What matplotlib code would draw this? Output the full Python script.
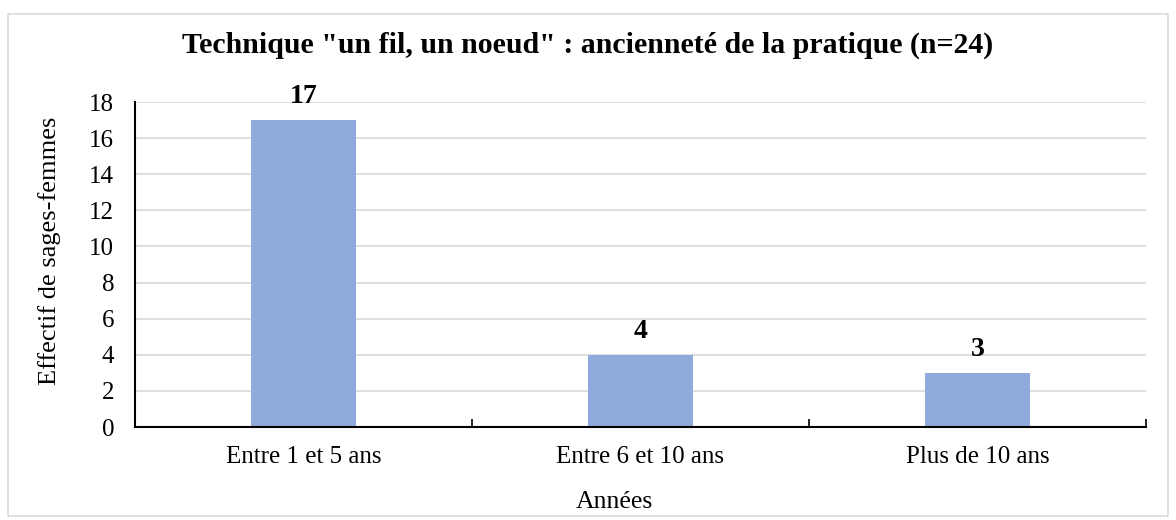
import matplotlib
matplotlib.use('Agg')
import matplotlib.pyplot as plt
from matplotlib.patches import Rectangle

# data
categories = ['Entre 1 et 5 ans', 'Entre 6 et 10 ans', 'Plus de 10 ans']
effectifs = [17, 4, 3]
y_ticks = [0, 2, 4, 6, 8, 10, 12, 14, 16, 18]

plt.rcParams['font.family'] = ['Liberation Serif', 'DejaVu Serif']

fig = plt.figure(figsize=(11.76, 5.2), dpi=100)
ax = fig.add_axes([135/1176, 1 - 427/520, (1146 - 135)/1176, (427 - 102)/520])

x = list(range(len(categories)))
bars = ax.bar(x, effectifs, width=0.31, color='#8faadc', zorder=3)
for xi, v in zip(x, effectifs):
    ax.annotate(str(v), (xi, v), xytext=(0, 8), textcoords='offset points',
                ha='center', va='bottom', fontsize=20, fontweight='bold')

ax.set_xlim(-0.5, len(categories) - 0.5)
ax.set_ylim(0, 18)
ax.set_yticks(y_ticks)
ax.set_xticks(x)
ax.set_xticklabels(categories)
ax.set_xticks([i - 0.5 for i in range(len(categories) + 1)], minor=True)
ax.tick_params(axis='x', which='major', length=0, labelsize=18, pad=14)
ax.tick_params(axis='x', which='minor', direction='in', length=6, width=1.2, color='black')
ax.tick_params(axis='y', length=0, labelsize=18, pad=15)
ax.yaxis.grid(True, color='#d9d9d9', linewidth=1.2, zorder=0)

for s in ['top', 'right']:
    ax.spines[s].set_visible(False)
ax.spines['bottom'].set_linewidth(1.5)
ax.spines['left'].set_linewidth(1.5)
ax.spines['bottom'].set_zorder(4)

ax.set_ylabel('Effectif de sages-femmes', fontsize=19, va='center')
ax.yaxis.set_label_coords((50 - 135) / 1011, (427 - 251) / 325)
ax.set_xlabel('Années', fontsize=18.5, va='center')
ax.xaxis.set_label_coords((614 - 135) / 1011, (427 - 502) / 325)

fig.text(0.5, 1 - 45/520, 'Technique "un fil, un noeud" : ancienneté de la pratique (n=24)',
         ha='center', va='center', fontsize=21.5, fontweight='bold')

# chart border
fig.patches.append(Rectangle((8/1176, 1 - 516/520), 1160/1176, 502/520,
                             transform=fig.transFigure, fill=False,
                             edgecolor='#d9d9d9', linewidth=1.2))

fig.savefig('out.png', dpi=100)
